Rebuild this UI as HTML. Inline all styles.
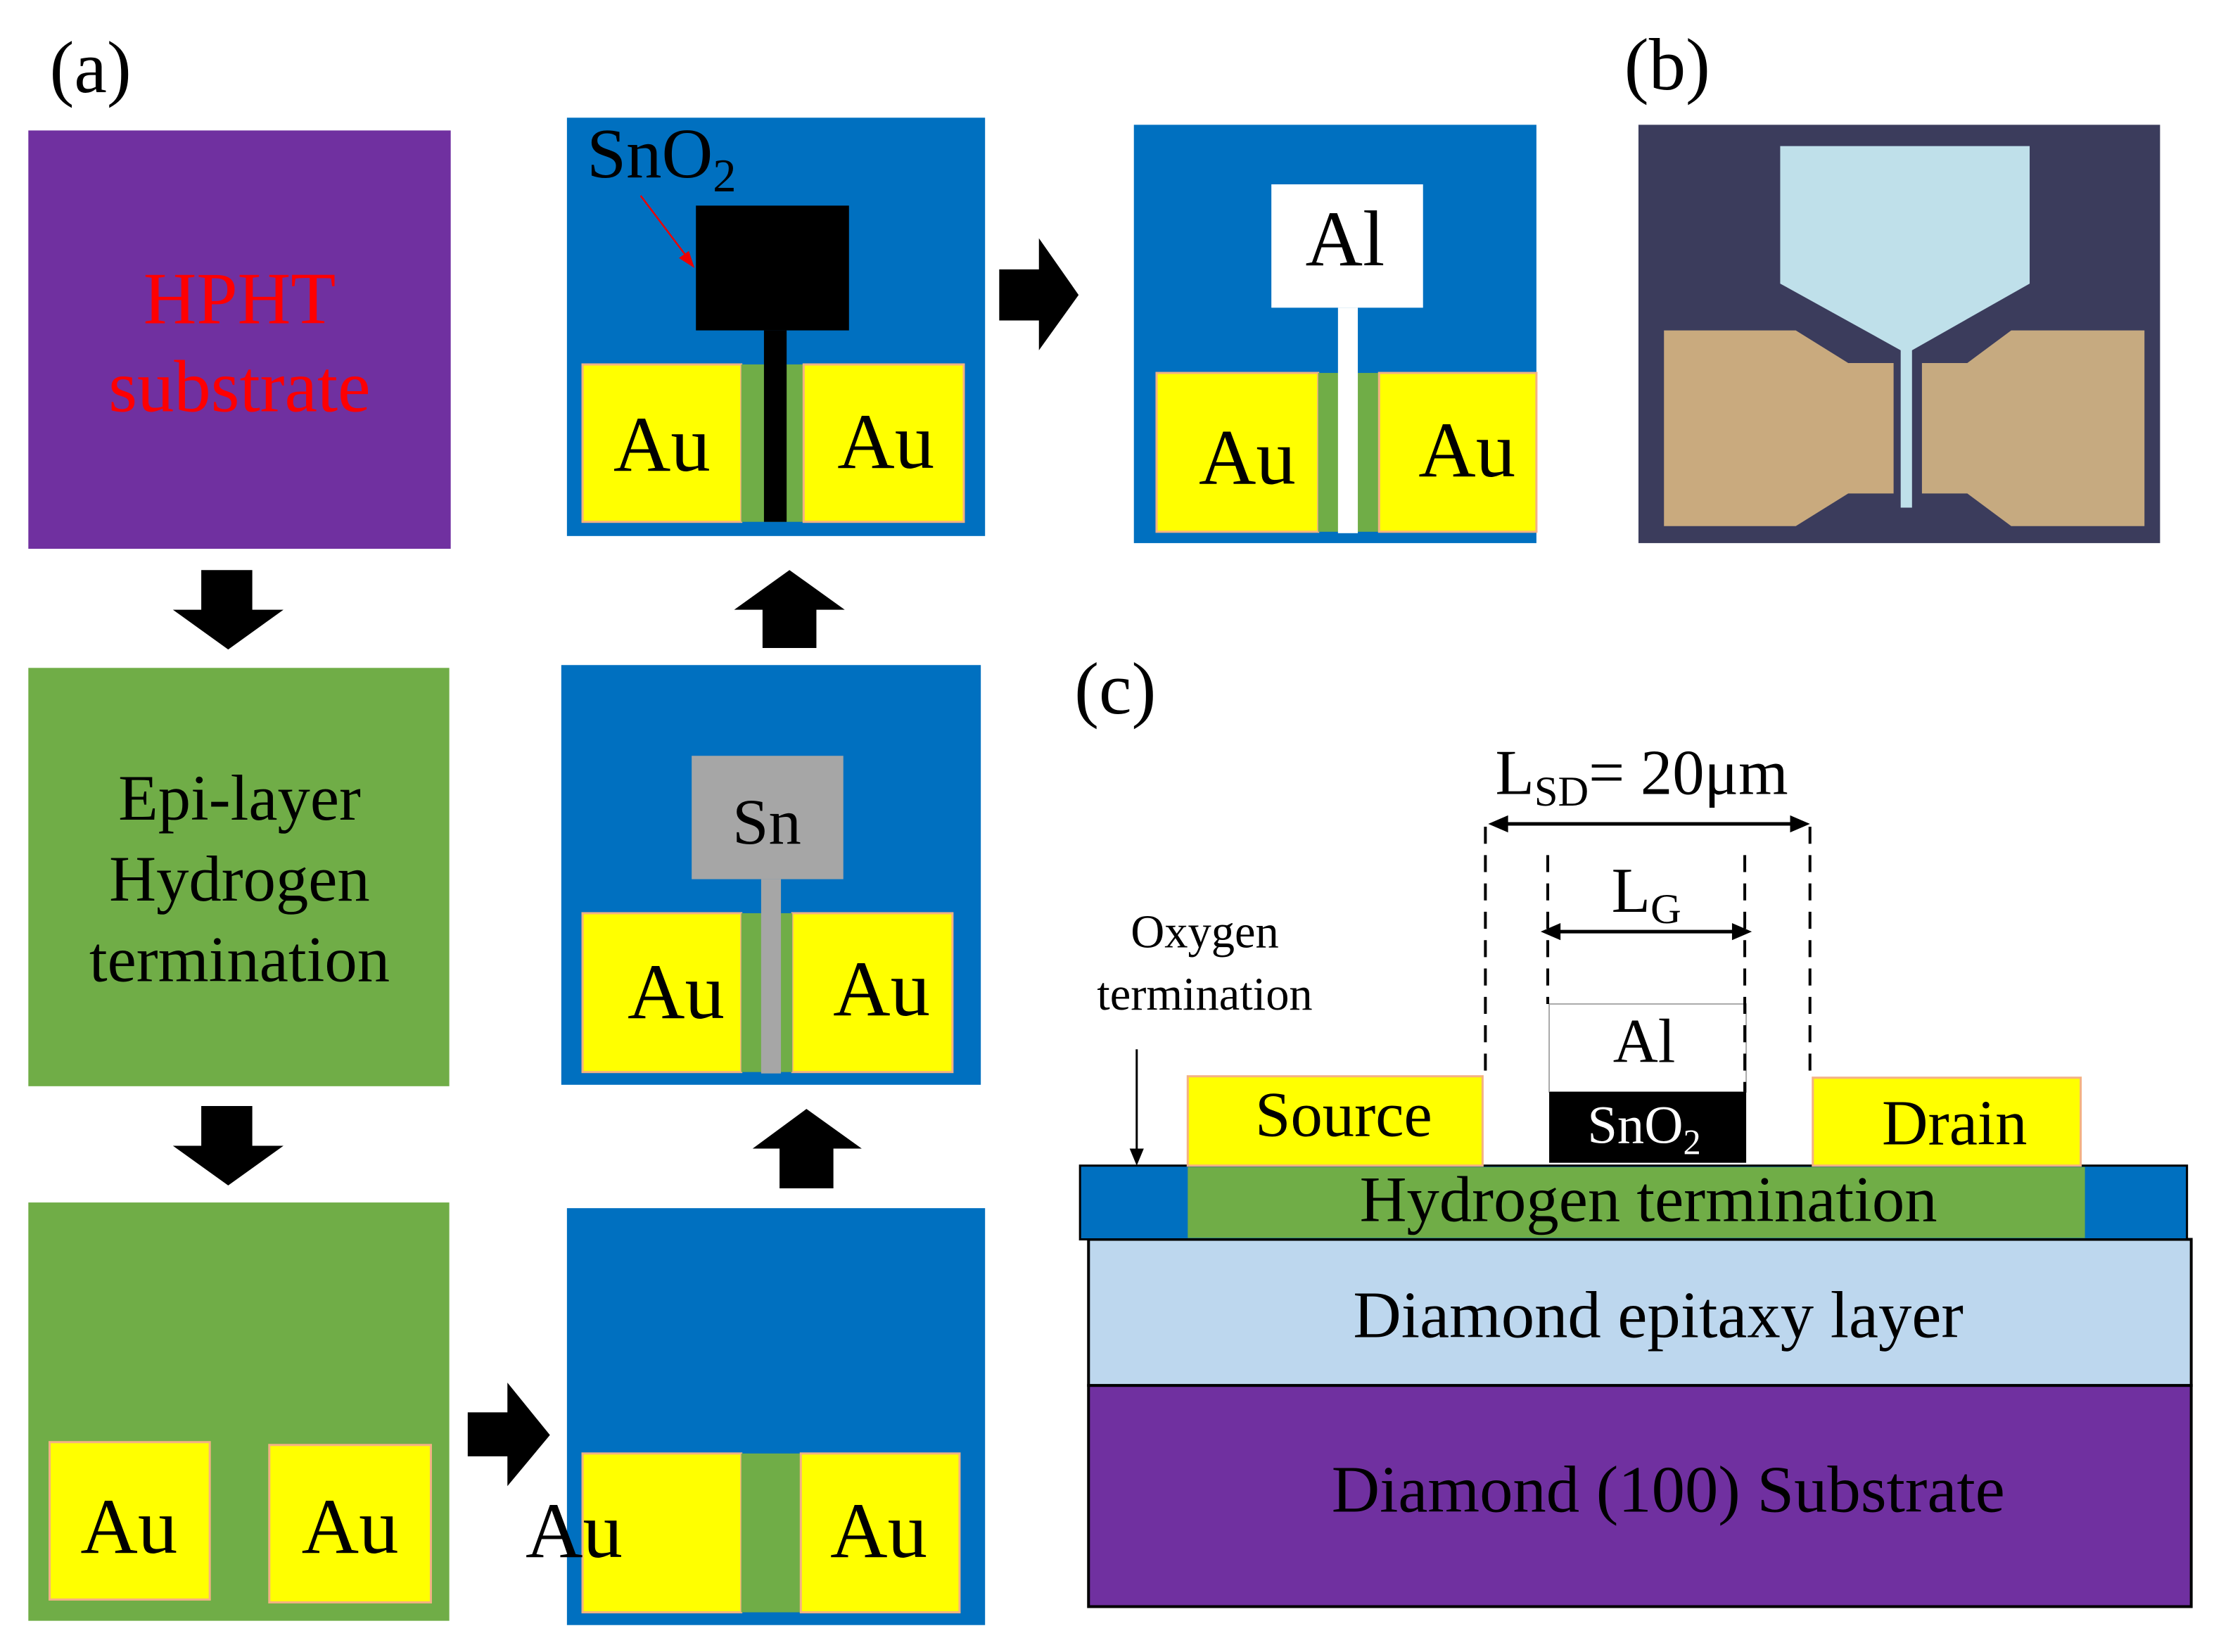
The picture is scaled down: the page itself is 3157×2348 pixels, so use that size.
<!DOCTYPE html>
<html><head><meta charset="utf-8"><style>html,body{margin:0;padding:0;background:#fff}svg{display:block}</style></head>
<body>
<svg width="3157" height="2348" viewBox="0 0 1567 1165" preserveAspectRatio="none" xmlns="http://www.w3.org/2000/svg" font-family="Liberation Serif, serif">
<rect width="1567" height="1165" fill="#fff"/>
<text x="35" y="65" font-size="52">(a)</text>
<text x="1146" y="63" font-size="52">(b)</text>
<text x="758" y="503" font-size="52">(c)</text>

<!-- HPHT -->
<rect x="20" y="92" width="298" height="295" fill="#7030A0"/>
<text x="169" y="228" font-size="52" fill="#FF0000" text-anchor="middle">HPHT</text>
<text x="169" y="290" font-size="52" fill="#FF0000" text-anchor="middle">substrate</text>
<polygon points="142,402 178,402 178,430 200,430 161,458 122,430 142,430" fill="#000"/>

<!-- Epi -->
<rect x="20" y="471" width="297" height="295" fill="#70AD47"/>
<text x="169" y="578" font-size="46" text-anchor="middle">Epi-layer</text>
<text x="169" y="635" font-size="46" text-anchor="middle">Hydrogen</text>
<text x="169" y="692" font-size="46" text-anchor="middle">termination</text>
<polygon points="142,780 178,780 178,808 200,808 161,836 122,808 142,808" fill="#000"/>

<!-- Au on green -->
<rect x="20" y="848" width="297" height="295" fill="#70AD47"/>
<rect x="35" y="1017" width="113" height="111" fill="#FFFF00" stroke="#F4B183" stroke-width="1.5"/>
<rect x="190" y="1019" width="114" height="111" fill="#FFFF00" stroke="#F4B183" stroke-width="1.5"/>
<text x="91" y="1095" font-size="56" text-anchor="middle">Au</text>
<text x="247" y="1095" font-size="56" text-anchor="middle">Au</text>
<polygon points="330,996 358,996 358,975 388,1012 358,1048 358,1027 330,1027" fill="#000"/>

<!-- blue with Au -->
<rect x="400" y="852" width="295" height="294" fill="#0070C0"/>
<rect x="411" y="1025" width="112" height="112" fill="#FFFF00" stroke="#F4B183" stroke-width="1.5"/>
<rect x="523" y="1025" width="42" height="112" fill="#70AD47"/>
<rect x="565" y="1025" width="112" height="112" fill="#FFFF00" stroke="#F4B183" stroke-width="1.5"/>
<text x="405" y="1098" font-size="56" text-anchor="middle">Au</text>
<text x="620" y="1098" font-size="56" text-anchor="middle">Au</text>
<polygon points="569,782 608,810 588,810 588,838 550,838 550,810 531,810" fill="#000"/>

<!-- Sn -->
<rect x="396" y="469" width="296" height="296" fill="#0070C0"/>
<rect x="411" y="644" width="112" height="112" fill="#FFFF00" stroke="#F4B183" stroke-width="1.5"/>
<rect x="559" y="644" width="113" height="112" fill="#FFFF00" stroke="#F4B183" stroke-width="1.5"/>
<rect x="523" y="644" width="36" height="112" fill="#70AD47"/>
<rect x="488" y="533" width="107" height="87" fill="#A6A6A6"/>
<rect x="537" y="620" width="14" height="137" fill="#A6A6A6"/>
<text x="541" y="595" font-size="46" text-anchor="middle">Sn</text>
<text x="477" y="718" font-size="56" text-anchor="middle">Au</text>
<text x="622" y="716" font-size="56" text-anchor="middle">Au</text>
<polygon points="557,402 596,430 576,430 576,457 538,457 538,430 518,430" fill="#000"/>

<!-- SnO2 -->
<rect x="400" y="83" width="295" height="295" fill="#0070C0"/>
<rect x="411" y="257" width="112" height="111" fill="#FFFF00" stroke="#F4B183" stroke-width="1.5"/>
<rect x="523" y="257" width="44" height="111" fill="#70AD47"/>
<rect x="567" y="257" width="113" height="111" fill="#FFFF00" stroke="#F4B183" stroke-width="1.5"/>
<rect x="491" y="145" width="108" height="88" fill="#000"/>
<rect x="539" y="233" width="16" height="135" fill="#000"/>
<text x="414" y="125" font-size="50">SnO<tspan font-size="33" dy="10">2</tspan></text>
<line x1="452" y1="138" x2="486" y2="183" stroke="#E00" stroke-width="1.2"/>
<polygon points="490,189 479,182 486,177" fill="#E00"/>
<text x="467" y="332" font-size="56" text-anchor="middle">Au</text>
<text x="625" y="330" font-size="56" text-anchor="middle">Au</text>
<polygon points="705,190 733,190 733,168 761,208 733,247 733,226 705,226" fill="#000"/>

<!-- Al -->
<rect x="800" y="88" width="284" height="295" fill="#0070C0"/>
<rect x="816" y="263" width="114" height="112" fill="#FFFF00" stroke="#F4B183" stroke-width="1.5"/>
<rect x="930" y="263" width="43" height="112" fill="#70AD47"/>
<rect x="973" y="263" width="111" height="112" fill="#FFFF00" stroke="#F4B183" stroke-width="1.5"/>
<rect x="897" y="130" width="107" height="87" fill="#fff"/>
<rect x="944" y="217" width="14" height="159" fill="#fff"/>
<text x="949" y="187" font-size="56" text-anchor="middle">Al</text>
<text x="880" y="341" font-size="56" text-anchor="middle">Au</text>
<text x="1035" y="336" font-size="56" text-anchor="middle">Au</text>

<!-- photo -->
<rect x="1156" y="88" width="368" height="295" fill="#3b3c5c"/>
<polygon points="1256,103 1432,103 1432,200 1349,247 1349,358 1341,358 1341,247 1256,200" fill="#bfe0ea"/>
<polygon points="1174,233 1267,233 1304,256 1336,256 1336,348 1304,348 1267,371 1174,371" fill="#c9aa7e"/>
<polygon points="1513,233 1419,233 1388,256 1356,256 1356,348 1388,348 1419,371 1513,371" fill="#c6aa80"/>

<!-- (c) cross-section -->
<rect x="768" y="977" width="778" height="156" fill="#7030A0" stroke="#000" stroke-width="2"/>
<text x="1177" y="1066" font-size="47" text-anchor="middle">Diamond (100) Substrate</text>
<rect x="768" y="874" width="778" height="103" fill="#BDD7EE" stroke="#000" stroke-width="2"/>
<text x="1170" y="943" font-size="47" text-anchor="middle">Diamond epitaxy layer</text>
<rect x="762" y="822" width="781" height="52" fill="#0070C0" stroke="#000" stroke-width="1.5"/>
<rect x="838" y="823" width="633" height="50" fill="#70AD47"/>
<text x="1163" y="861" font-size="46" text-anchor="middle">Hydrogen termination</text>
<rect x="838" y="759" width="208" height="63" fill="#FFFF00" stroke="#F4B183" stroke-width="1.5"/>
<text x="948" y="801" font-size="45" text-anchor="middle">Source</text>
<rect x="1279" y="760" width="189" height="62" fill="#FFFF00" stroke="#F4B183" stroke-width="1.5"/>
<text x="1379" y="807" font-size="45" text-anchor="middle">Drain</text>
<rect x="1093" y="708" width="139" height="62" fill="#fff" stroke="#aaa" stroke-width="1"/>
<text x="1160" y="749" font-size="44" text-anchor="middle">Al</text>
<rect x="1093" y="770" width="139" height="50" fill="#000"/>
<text x="1160" y="806" font-size="38" fill="#fff" text-anchor="middle">SnO<tspan font-size="25" dy="8">2</tspan></text>

<g stroke="#000" stroke-width="2" stroke-dasharray="12,8" fill="none">
<line x1="1048" y1="583" x2="1048" y2="755"/>
<line x1="1277" y1="583" x2="1277" y2="760"/>
<line x1="1092" y1="603" x2="1092" y2="708"/>
<line x1="1231" y1="603" x2="1231" y2="770"/>
</g>
<line x1="1058" y1="581" x2="1268" y2="581" stroke="#000" stroke-width="2.5"/>
<polygon points="1050,581 1064,575 1064,587" fill="#000"/>
<polygon points="1277,581 1263,575 1263,587" fill="#000"/>
<line x1="1095" y1="657" x2="1228" y2="657" stroke="#000" stroke-width="2.5"/>
<polygon points="1087,657 1101,651 1101,663" fill="#000"/>
<polygon points="1236,657 1222,651 1222,663" fill="#000"/>
<text x="1055" y="560" font-size="45">L<tspan font-size="30" dy="8">SD</tspan><tspan dy="-8">= 20μm</tspan></text>
<text x="1137" y="643" font-size="45">L<tspan font-size="30" dy="8">G</tspan></text>
<text x="850" y="668" font-size="33" text-anchor="middle">Oxygen</text>
<text x="850" y="712" font-size="33" text-anchor="middle">termination</text>
<line x1="802" y1="740" x2="802" y2="812" stroke="#000" stroke-width="1.5"/>
<polygon points="802,822 797,810 807,810" fill="#000"/>
</svg>
</body></html>
